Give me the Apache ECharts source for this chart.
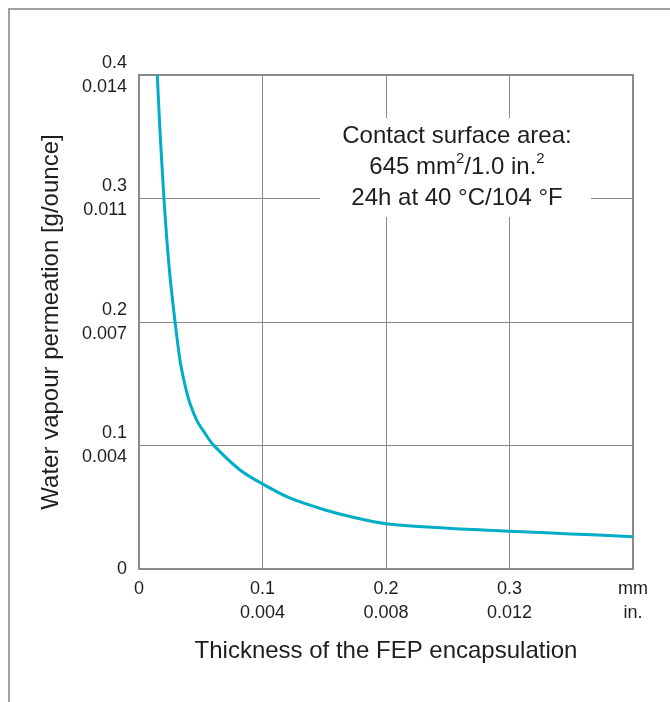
<!DOCTYPE html>
<html>
<head>
<meta charset="utf-8">
<script src="https://cdn.jsdelivr.net/npm/echarts@6/dist/echarts.min.js"></script>
<style>
  html, body { margin: 0; padding: 0; background: #fff; }
  #chart { width: 670px; height: 702px; }
</style>
</head>
<body>
<div id="chart"></div>
<script>
// thickness in mm, permeation in g
const thickness = [0.0148, 0.017, 0.0202, 0.0229, 0.0255, 0.0292, 0.0332, 0.037, 0.0413, 0.047, 0.052, 0.0602, 0.0818, 0.1, 0.122, 0.15, 0.175, 0.2, 0.25, 0.3, 0.35, 0.4]
const permeation = [0.4, 0.355, 0.3, 0.262, 0.233, 0.2, 0.169, 0.15, 0.134, 0.12, 0.112, 0.1005, 0.0802, 0.0689, 0.0575, 0.048, 0.0415, 0.0367, 0.033, 0.0306, 0.0284, 0.0262]

const xTickLabels = ['0', '0.1\n0.004', '0.2\n0.008', '0.3\n0.012', 'mm\nin.']
const yTickLabels = ['0', '0.1\n0.004', '0.2\n0.007', '0.3\n0.011', '0.4\n0.014']

const font = 'Liberation Sans, Arial, sans-serif'
const textColor = '#1e1e1e'
const lineGrey = '#8a8a8a'

const labelStyle = {
  fontFamily: font,
  fontSize: 18,
  lineHeight: 24,
  color: textColor
}

const option = {
  backgroundColor: '#fff',
  animation: false,
  grid: {
    left: 139,
    right: 37,
    top: 75,
    bottom: 133,
    show: true,
    borderColor: lineGrey,
    borderWidth: 2
  },
  xAxis: {
    type: 'value',
    min: 0,
    max: 0.4,
    interval: 0.1,
    name: 'Thickness of the FEP encapsulation',
    nameLocation: 'middle',
    nameGap: 70,
    nameTextStyle: {
      fontFamily: font,
      fontSize: 24,
      color: textColor,
      verticalAlign: 'top'
    },
    axisLine: { show: true, lineStyle: { color: lineGrey, width: 2 } },
    axisTick: { show: false },
    splitLine: { show: true, lineStyle: { color: lineGrey, width: 1 } },
    axisLabel: Object.assign({}, labelStyle, {
      margin: 8,
      formatter: v => xTickLabels[Math.round(v / 0.1)]
    })
  },
  yAxis: {
    type: 'value',
    min: 0,
    max: 0.4,
    interval: 0.1,
    name: 'Water vapour permeation [g/ounce]',
    nameLocation: 'middle',
    nameGap: 76,
    nameTextStyle: {
      fontFamily: font,
      fontSize: 24,
      color: textColor
    },
    axisLine: { show: true, lineStyle: { color: lineGrey, width: 2 } },
    axisTick: { show: false },
    splitLine: { show: true, lineStyle: { color: lineGrey, width: 1 } },
    axisLabel: Object.assign({}, labelStyle, {
      margin: 12,
      formatter: v => yTickLabels[Math.round(v / 0.1)]
    })
  },
  series: [{
    type: 'line',
    data: thickness.map((t, i) => [t, permeation[i]]),
    smooth: 0.3,
    showSymbol: false,
    lineStyle: { color: '#00adc7', width: 3 },
    z: 5
  }],
  graphic: [
    // outer frame (top and left edges)
    {
      type: 'polyline',
      shape: { points: [[9, 702], [9, 9], [670, 9]] },
      style: { stroke: '#a0a0a0', lineWidth: 2, fill: null }
    },
    // annotation box
    {
      type: 'rect',
      shape: { x: 320, y: 118, width: 271, height: 99 },
      style: { fill: '#fff' },
      z: 10
    },
    {
      type: 'text',
      x: 457,
      y: 167,
      z: 11,
      style: {
        text: 'Contact surface area:\n645 mm{sup|2}/1.0 in.{sup|2}\n24h at 40 °C/104 °F',
        fontFamily: font,
        fontSize: 24,
        lineHeight: 31,
        fill: textColor,
        align: 'center',
        verticalAlign: 'middle',
        rich: {
          sup: { fontFamily: font, fontSize: 15, lineHeight: 26, verticalAlign: 'top', fill: textColor }
        }
      }
    }
  ]
}

const chart = echarts.init(document.getElementById('chart'))
chart.setOption(option)
</script>
</body>
</html>
